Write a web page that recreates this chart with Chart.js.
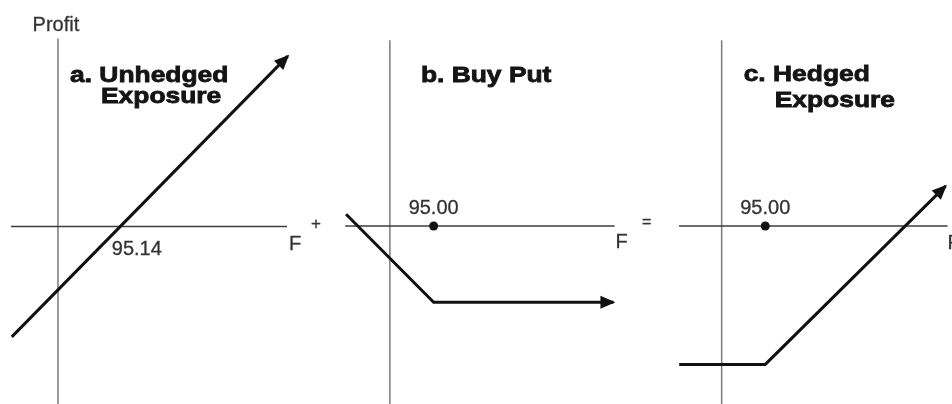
<!DOCTYPE html>
<html>
<head>
<meta charset="utf-8">
<script src="https://cdn.jsdelivr.net/npm/chart.js@4/dist/chart.umd.min.js"></script>
<style>
  html, body { margin: 0; padding: 0; background: #fff; }
  #wrap { position: relative; width: 952px; height: 404px; overflow: hidden; }
  canvas { position: absolute; top: 0; }
</style>
</head>
<body>
<div id="wrap">
  <canvas id="panelA" width="330" height="404" style="left:0px"></canvas>
  <canvas id="panelB" width="330" height="404" style="left:329px"></canvas>
  <canvas id="panelC" width="291" height="404" style="left:661px"></canvas>
</div>
<script>
// futures price where the profit axis crosses the F axis
const axisF = 94.625;

// a. unhedged exposure, break-even at 95.14
const breakEven = 95.14;
const unhedgedF = [94.24, 96.54];
const unhedgedProfit = [-0.92, 1.42];

// b. buy put, strike 95.00
const strike = 95.00;
const putF = [94.25, 95.00, 96.54];
const putProfit = [0.10, -0.65, -0.65];

// c. hedged exposure = a + b
const hedgedF = [94.26, 95.00, 96.55];
const hedgedProfit = [-1.18, -1.18, 0.34];

// every panel uses the same scale: 120 px per unit on both axes
const PX = 120;
const F_MIN = 94.142;
const P_MIN = -177.5 / PX;
const P_MAX = 226.5 / PX;

const REG = '20px "Liberation Sans", Arial, sans-serif';
const BOLD = 'bold 22px "Liberation Sans", Arial, sans-serif';

function pts(xs, ys) {
  return xs.map((x, i) => ({ x: x, y: ys[i] }));
}

// axes, arrow heads and text
const diagram = {
  id: 'diagram',
  beforeDatasetsDraw(chart, args, opts) {
    const ctx = chart.ctx, xs = chart.scales.x, ys = chart.scales.y;
    const ax = xs.getPixelForValue(axisF);
    const y0 = ys.getPixelForValue(0);
    ctx.save();
    ctx.lineWidth = 1.5;
    ctx.strokeStyle = '#7a7a7a';
    ctx.beginPath();
    ctx.moveTo(ax, ys.getPixelForValue(opts.axisTop));
    ctx.lineTo(ax, chart.height);
    ctx.stroke();
    ctx.strokeStyle = '#3c3c3c';
    ctx.beginPath();
    ctx.moveTo(xs.getPixelForValue(opts.fAxis[0]), y0);
    ctx.lineTo(xs.getPixelForValue(opts.fAxis[1]), y0);
    ctx.stroke();
    ctx.restore();
  },
  afterDatasetsDraw(chart, args, opts) {
    const ctx = chart.ctx, xs = chart.scales.x, ys = chart.scales.y;
    ctx.save();
    // arrow head at the end of the payoff line
    const d = chart.data.datasets[0].data;
    const a = d[d.length - 2], b = d[d.length - 1];
    const x1 = xs.getPixelForValue(a.x), y1 = ys.getPixelForValue(a.y);
    const x2 = xs.getPixelForValue(b.x), y2 = ys.getPixelForValue(b.y);
    const ang = Math.atan2(y2 - y1, x2 - x1);
    ctx.translate(x2, y2);
    ctx.rotate(ang);
    ctx.fillStyle = '#111';
    ctx.beginPath();
    ctx.moveTo(2, 0);
    ctx.lineTo(-13, -6.5);
    ctx.lineTo(-13, 6.5);
    ctx.closePath();
    ctx.fill();
    ctx.restore();

    ctx.save();
    opts.labels.forEach(l => {
      const px = xs.getPixelForValue(l.x) + (l.dx || 0);
      const py = ys.getPixelForValue(l.y) + (l.dy || 0);
      ctx.font = l.bold ? BOLD : (l.font || REG);
      ctx.fillStyle = l.bold ? '#141414' : '#333';
      ctx.strokeStyle = ctx.fillStyle;
      ctx.textAlign = l.align || 'left';
      ctx.textBaseline = 'alphabetic';
      ctx.save();
      ctx.translate(px, py);
      if (l.bold) {
        ctx.scale(1.2, 1);
        ctx.lineWidth = 0.8;
        ctx.strokeText(l.text, 0, 0);
      } else {
        ctx.lineWidth = 0.3;
        ctx.strokeText(l.text, 0, 0);
      }
      ctx.fillText(l.text, 0, 0);
      ctx.restore();
    });
    ctx.restore();
  }
};

function panel(id, width, payoff, dot, plugOpts) {
  const datasets = [{
    data: payoff,
    showLine: true,
    borderColor: '#111',
    borderWidth: 3,
    pointRadius: 0,
    clip: false
  }];
  if (dot) {
    datasets.push({
      data: dot,
      pointRadius: 4.5,
      pointBackgroundColor: '#111',
      pointBorderWidth: 0,
      clip: false
    });
  }
  return new Chart(document.getElementById(id), {
    type: 'scatter',
    data: { datasets: datasets },
    options: {
      responsive: false,
      animation: false,
      layout: { padding: 0 },
      scales: {
        x: { type: 'linear', display: false, min: F_MIN, max: F_MIN + width / PX },
        y: { type: 'linear', display: false, min: P_MIN, max: P_MAX }
      },
      plugins: {
        legend: { display: false },
        tooltip: { enabled: false },
        diagram: plugOpts
      }
    },
    plugins: [diagram]
  });
}

const topA = 1.567, topBC = 1.583;
const fEndA = 96.534, fEndB = 96.55, fEndC = 96.567;

panel('panelA', 330, pts(unhedgedF, unhedgedProfit), null, {
  axisTop: topA,
  fAxis: [94.234, fEndA],
  labels: [
    { text: 'Profit', x: axisF, y: topA, dx: -2, dy: -7, align: 'center' },
    { text: 'a. Unhedged', x: axisF, y: topA, dx: 12, dy: 44, bold: true },
    { text: 'Exposure', x: axisF, y: topA, dx: 43, dy: 65, bold: true },
    { text: breakEven.toFixed(2), x: breakEven, y: 0, dx: -8, dy: 28 },
    { text: 'F', x: fEndA, y: 0, dx: 2, dy: 23 },
    { text: '+', x: fEndA, y: 0, dx: 29, dy: 2, align: 'center', font: '17px "Liberation Sans", Arial, sans-serif' }
  ]
});

panel('panelB', 330, pts(putF, putProfit), [{ x: strike, y: 0 }], {
  axisTop: topBC,
  fAxis: [94.242, fEndB],
  labels: [
    { text: 'b. Buy Put', x: axisF, y: topBC, dx: 31, dy: 42, bold: true },
    { text: strike.toFixed(2), x: strike, y: 0, dy: -12, align: 'center' },
    { text: 'F', x: fEndB, y: 0, dx: 1, dy: 22.5 },
    { text: '=', x: fEndB, y: 0, dx: 32, dy: 1, align: 'center', font: '16px "Liberation Sans", Arial, sans-serif' }
  ]
});

panel('panelC', 291, pts(hedgedF, hedgedProfit), [{ x: strike, y: 0 }], {
  axisTop: topBC,
  fAxis: [94.258, fEndC],
  labels: [
    { text: 'c. Hedged', x: axisF, y: topBC, dx: 22, dy: 41, bold: true },
    { text: 'Exposure', x: axisF, y: topBC, dx: 53, dy: 67, bold: true },
    { text: strike.toFixed(2), x: strike, y: 0, dy: -12, align: 'center' },
    { text: 'F', x: fEndC, y: 0, dx: 0, dy: 23 }
  ]
});
</script>
</body>
</html>
